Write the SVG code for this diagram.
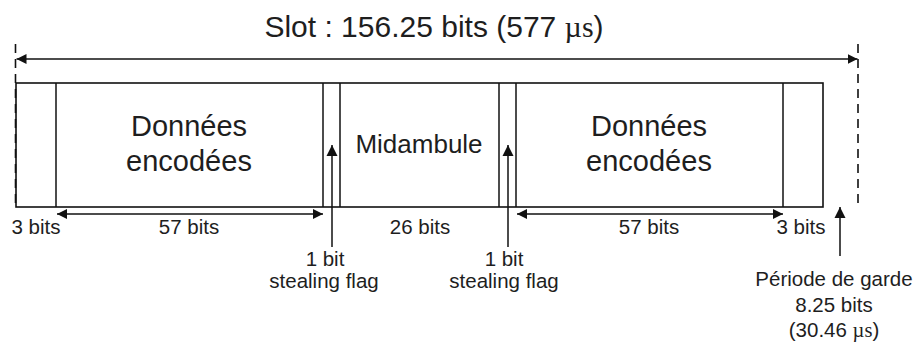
<svg xmlns="http://www.w3.org/2000/svg" width="920" height="343" viewBox="0 0 920 343">
<defs>
<marker id="ah" viewBox="0 0 10 10" refX="10" refY="5" markerWidth="10" markerHeight="10" markerUnits="userSpaceOnUse" orient="auto-start-reverse">
<path d="M0,0 L10,5 L0,10 z" fill="#111"/>
</marker>
<marker id="ahb" viewBox="0 0 10 10" refX="10" refY="5" markerWidth="11" markerHeight="12" markerUnits="userSpaceOnUse" orient="auto-start-reverse">
<path d="M0,0 L10,5 L0,10 z" fill="#111"/>
</marker>
<style>
.t{font-family:"Liberation Sans",Arial,sans-serif;fill:#1e1e1e;text-anchor:middle}
.mu{font-family:"Liberation Serif","Times New Roman",serif}
.box{fill:#fff;stroke:#111;stroke-width:1.6}
.ln{stroke:#111;stroke-width:1.5;fill:none}
.dim{stroke:#111;stroke-width:1.3;fill:none;marker-start:url(#ah);marker-end:url(#ah)}
.up{stroke:#111;stroke-width:1.5;fill:none;marker-end:url(#ahb)}
.dash{stroke:#111;stroke-width:1.6;stroke-dasharray:9,6;fill:none}
.big{font-size:29px}
.sm{font-size:20.5px}
</style>
</defs>
<rect width="920" height="343" fill="#fff"/>
<text class="t" x="434" y="37" style="font-size:30px">Slot : 156.25 bits (577 <tspan class="mu">µs</tspan>)</text>
<g id="slot">
<rect class="box" x="16" y="83" width="807" height="124"/>
</g>
<g id="tail1"><line class="ln" x1="56" y1="83" x2="56" y2="207"/></g>
<g id="data1"><text class="t big" x="189" y="136">Données</text><text class="t big" x="189" y="171">encodées</text></g>
<g id="flag1"><line class="ln" x1="323" y1="83" x2="323" y2="207"/><line class="ln" x1="340" y1="83" x2="340" y2="207"/></g>
<g id="midambule"><text class="t" x="419" y="153" style="font-size:26px">Midambule</text></g>
<g id="flag2"><line class="ln" x1="499" y1="83" x2="499" y2="207"/><line class="ln" x1="516" y1="83" x2="516" y2="207"/></g>
<g id="data2"><text class="t big" x="649" y="136">Données</text><text class="t big" x="649" y="171">encodées</text></g>
<g id="tail2"><line class="ln" x1="783" y1="83" x2="783" y2="207"/></g>
<g id="connectors">
<line class="dash" x1="15.5" y1="44" x2="15.5" y2="207"/>
<line class="dash" x1="858" y1="44" x2="858" y2="207"/>
<line class="dim" x1="16.5" y1="59" x2="857.5" y2="59"/>
<line class="dim" x1="57" y1="214" x2="323" y2="214"/>
<line class="dim" x1="517" y1="214" x2="783" y2="214"/>
<line class="up" x1="332" y1="247" x2="332" y2="145"/>
<line class="up" x1="508" y1="247" x2="508" y2="145"/>
<line class="up" x1="840" y1="256" x2="840" y2="207"/>
</g>
<g id="labels">
<text class="t sm" x="36" y="234">3 bits</text>
<text class="t sm" x="189" y="234">57 bits</text>
<text class="t sm" x="420" y="234">26 bits</text>
<text class="t sm" x="649" y="234">57 bits</text>
<text class="t sm" x="801" y="234">3 bits</text>
<text class="t sm" x="325" y="266">1 bit</text>
<text class="t sm" x="324" y="288">stealing flag</text>
<text class="t sm" x="504" y="266">1 bit</text>
<text class="t sm" x="504" y="288">stealing flag</text>
<text class="t sm" x="834" y="286">Période de garde</text>
<text class="t sm" x="834" y="312">8.25 bits</text>
<text class="t sm" x="834" y="337">(30.46 <tspan class="mu">µs</tspan>)</text>
</g>
</svg>
